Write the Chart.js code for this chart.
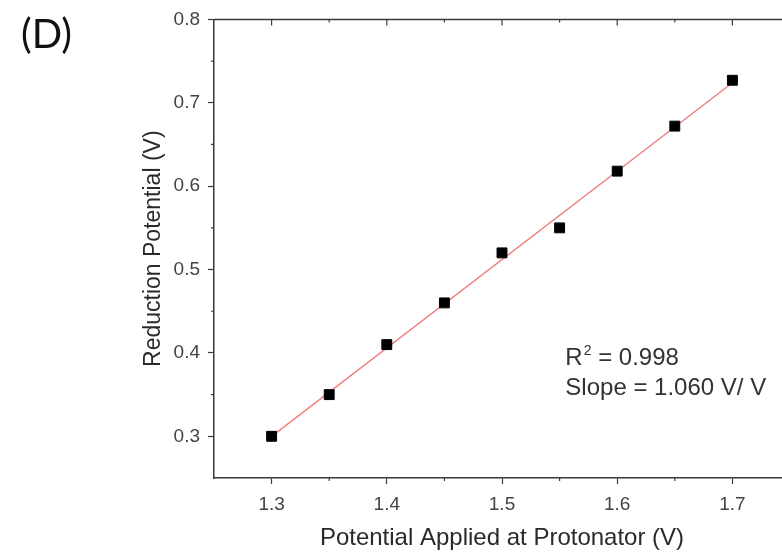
<!DOCTYPE html>
<html>
<head>
<meta charset="utf-8">
<script src="https://cdn.jsdelivr.net/npm/chart.js@4.4.1/dist/chart.umd.min.js"></script>
<style>
  html, body { margin: 0; padding: 0; background: #fff; overflow: hidden; }
  #wrap { position: relative; width: 800px; height: 553px; }
  #panel { position: absolute; left: 21px; top: 9px; font: 40px Lato, "Open Sans", sans-serif; color: #111; }
</style>
</head>
<body>
<div id="wrap">
  <canvas id="myChart" width="800" height="553"></canvas>
  <div id="panel">(D)</div>
</div>
<script>
// applied potential at protonator (V)
const applied = [1.3, 1.35, 1.4, 1.45, 1.5, 1.55, 1.6, 1.65, 1.7];
// measured reduction potential (V)
const reduction = [0.300, 0.350, 0.410, 0.460, 0.520, 0.550, 0.618, 0.672, 0.727];

// linear fit line, ends
const fitX = [1.3, 1.7];
const fitY = [0.300, 0.724];

const xTicks = [1.3, 1.4, 1.5, 1.6, 1.7];
const yTicks = [0.3, 0.4, 0.5, 0.6, 0.7, 0.8];
const xMinor = [1.35, 1.45, 1.55, 1.65];
const yMinor = [0.35, 0.45, 0.55, 0.65, 0.75];

const axisColor = '#3a3a3a';
const labelColor = '#444';
const fontFamily = '"Liberation Sans", Arial, sans-serif';

// top axis frame + minor ticks + fit annotation
const framePlugin = {
    id: 'frame',
    afterDraw(chart) {
        const ctx = chart.ctx;
        const area = chart.chartArea;
        const x = chart.scales.x;
        const y = chart.scales.y;
        ctx.save();
        ctx.strokeStyle = axisColor;
        ctx.lineWidth = 1.5;
        ctx.beginPath();
        ctx.moveTo(area.left, area.top);
        ctx.lineTo(area.right, area.top);
        ctx.moveTo(area.right, area.top);
        ctx.lineTo(area.right, area.bottom);
        ctx.stroke();

        ctx.lineWidth = 1.2;
        ctx.beginPath();
        xTicks.forEach(v => {
            const px = x.getPixelForValue(v);
            ctx.moveTo(px, area.top);
            ctx.lineTo(px, area.top + 6);
        });
        xMinor.forEach(v => {
            const px = x.getPixelForValue(v);
            ctx.moveTo(px, area.top);
            ctx.lineTo(px, area.top + 3);
            ctx.moveTo(px, area.bottom);
            ctx.lineTo(px, area.bottom + 3);
        });
        yMinor.forEach(v => {
            const py = y.getPixelForValue(v);
            ctx.moveTo(area.left - 3, py);
            ctx.lineTo(area.left, py);
        });
        ctx.stroke();

        // R^2 / slope text
        ctx.fillStyle = '#333';
        ctx.textBaseline = 'alphabetic';
        ctx.textAlign = 'left';
        const tx = x.getPixelForValue(1.555);
        const ty = y.getPixelForValue(0.385);
        ctx.font = '24px ' + fontFamily;
        ctx.fillText('R', tx, ty);
        const rw = ctx.measureText('R').width;
        ctx.font = '14px ' + fontFamily;
        ctx.fillText('2', tx + rw + 1, ty - 10);
        const sw = ctx.measureText('2').width;
        ctx.font = '24px ' + fontFamily;
        ctx.fillText(' = 0.998', tx + rw + sw + 1, ty);
        ctx.fillText('Slope = 1.060 V/ V', tx, ty + 30);
        ctx.restore();
    }
};

const cts = document.querySelector('#myChart').getContext('2d');

const data = {
    datasets: [
        {
            label: 'Reduction potential',
            data: applied.map((v, i) => ({ x: v, y: reduction[i] })),
            pointStyle: 'rect',
            pointRadius: 7,
            pointHoverRadius: 7,
            backgroundColor: '#000',
            borderColor: '#000',
            borderWidth: 1,
            showLine: false,
            order: 1,
        },
        {
            label: 'Linear fit',
            data: fitX.map((v, i) => ({ x: v, y: fitY[i] })),
            showLine: true,
            pointRadius: 0,
            borderColor: 'rgb(240, 128, 128)',
            borderWidth: 1.5,
            order: 2,
        },
    ],
};

const config = {
    type: 'scatter',
    data: data,
    options: {
        responsive: false,
        animation: false,
        layout: { padding: { left: 140, top: 15, right: 10, bottom: 0 } },
        plugins: {
            legend: { display: false },
            tooltip: { enabled: false },
        },
        scales: {
            x: {
                type: 'linear',
                min: 1.25,
                max: 1.75,
                afterBuildTicks: scale => { scale.ticks = xTicks.map(v => ({ value: v })); },
                afterFit: scale => { scale.height = 75; },
                border: { color: axisColor, width: 1.5 },
                grid: { drawOnChartArea: false, drawTicks: true, tickLength: 6, color: axisColor, tickWidth: 1.2 },
                ticks: {
                    color: labelColor,
                    padding: 9,
                    font: { family: fontFamily, size: 19 },
                    callback: v => v.toFixed(1),
                },
                title: {
                    display: true,
                    text: 'Potential Applied at Protonator (V)',
                    color: '#2a2a2a',
                    padding: 0,
                    font: { family: fontFamily, size: 24 },
                },
            },
            y: {
                type: 'linear',
                min: 0.25,
                max: 0.8,
                afterBuildTicks: scale => { scale.ticks = yTicks.map(v => ({ value: v })); },
                afterFit: scale => { scale.width = 74; },
                border: { color: axisColor, width: 1.5 },
                grid: { drawOnChartArea: false, drawTicks: true, tickLength: 6, color: axisColor, tickWidth: 1.2 },
                ticks: {
                    color: labelColor,
                    padding: 8,
                    font: { family: fontFamily, size: 19 },
                    callback: v => v.toFixed(1),
                },
                title: {
                    display: true,
                    text: 'Reduction Potential (V)',
                    color: '#2a2a2a',
                    padding: 0,
                    font: { family: fontFamily, size: 23 },
                },
            },
        },
    },
    plugins: [framePlugin],
};

const myChart = new Chart(cts, config);
</script>
</body>
</html>
